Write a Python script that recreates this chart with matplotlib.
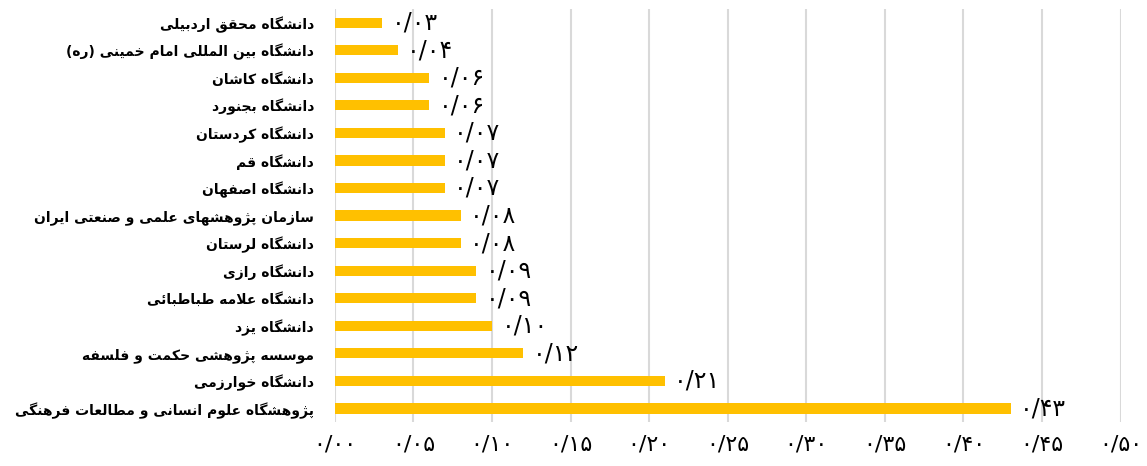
import matplotlib.pyplot as plt
import numpy as np
from matplotlib.ticker import FuncFormatter, MultipleLocator

# داده‌ها (از بالا به پایین)
labels = [
    'دانشگاه محقق اردبیلی',
    'دانشگاه بین المللی امام خمینی (ره)',
    'دانشگاه کاشان',
    'دانشگاه بجنورد',
    'دانشگاه کردستان',
    'دانشگاه قم',
    'دانشگاه اصفهان',
    'سازمان پژوهشهای علمی و صنعتی ایران',
    'دانشگاه لرستان',
    'دانشگاه رازی',
    'دانشگاه علامه طباطبائی',
    'دانشگاه یزد',
    'موسسه پژوهشی حکمت و فلسفه',
    'دانشگاه خوارزمی',
    'پژوهشگاه علوم انسانی و مطالعات فرهنگی',
]
values = [0.03, 0.04, 0.06, 0.06, 0.07, 0.07, 0.07, 0.08, 0.08, 0.09,
          0.09, 0.10, 0.12, 0.21, 0.43]

# matplotlib حروف عربی را به هم نمی‌چسباند، پس شکل‌دهی دستی:
# (isolated, final, initial, medial)
FORMS = {
    'ا': ('\uFE8D', '\uFE8E', None, None),
    'ب': ('\uFE8F', '\uFE90', '\uFE91', '\uFE92'),
    'پ': ('\uFB56', '\uFB57', '\uFB58', '\uFB59'),
    'ت': ('\uFE95', '\uFE96', '\uFE97', '\uFE98'),
    'ج': ('\uFE9D', '\uFE9E', '\uFE9F', '\uFEA0'),
    'ح': ('\uFEA1', '\uFEA2', '\uFEA3', '\uFEA4'),
    'خ': ('\uFEA5', '\uFEA6', '\uFEA7', '\uFEA8'),
    'د': ('\uFEA9', '\uFEAA', None, None),
    'ر': ('\uFEAD', '\uFEAE', None, None),
    'ز': ('\uFEAF', '\uFEB0', None, None),
    'ژ': ('\uFB8A', '\uFB8B', None, None),
    'س': ('\uFEB1', '\uFEB2', '\uFEB3', '\uFEB4'),
    'ش': ('\uFEB5', '\uFEB6', '\uFEB7', '\uFEB8'),
    'ص': ('\uFEB9', '\uFEBA', '\uFEBB', '\uFEBC'),
    'ط': ('\uFEC1', '\uFEC2', '\uFEC3', '\uFEC4'),
    'ع': ('\uFEC9', '\uFECA', '\uFECB', '\uFECC'),
    'ف': ('\uFED1', '\uFED2', '\uFED3', '\uFED4'),
    'ق': ('\uFED5', '\uFED6', '\uFED7', '\uFED8'),
    'ک': ('\uFB8E', '\uFB8F', '\uFB90', '\uFB91'),
    'گ': ('\uFB92', '\uFB93', '\uFB94', '\uFB95'),
    'ل': ('\uFEDD', '\uFEDE', '\uFEDF', '\uFEE0'),
    'م': ('\uFEE1', '\uFEE2', '\uFEE3', '\uFEE4'),
    'ن': ('\uFEE5', '\uFEE6', '\uFEE7', '\uFEE8'),
    'ه': ('\uFEE9', '\uFEEA', '\uFEEB', '\uFEEC'),
    'و': ('\uFEED', '\uFEEE', None, None),
    'ی': ('\uFBFC', '\uFBFD', '\uFBFE', '\uFBFF'),
    'ئ': ('\uFE89', '\uFE8A', '\uFE8B', '\uFE8C'),
}


def shape(text):
    out = []
    n = len(text)
    i = 0
    while i < n:
        c = text[i]
        if c not in FORMS:
            out.append(c)
            i += 1
            continue
        prev = text[i - 1] if i > 0 else None
        joins_prev = prev in FORMS and FORMS[prev][2] is not None
        if c == 'ل' and i + 1 < n and text[i + 1] == 'ا':
            out.append('\uFEFC' if joins_prev else '\uFEFB')
            i += 2
            continue
        nxt = text[i + 1] if i + 1 < n else None
        joins_next = FORMS[c][2] is not None and nxt in FORMS
        iso, fin, ini, med = FORMS[c]
        if joins_prev and joins_next:
            out.append(med)
        elif joins_prev:
            out.append(fin)
        elif joins_next:
            out.append(ini)
        else:
            out.append(iso)
        i += 1
    s = ''.join(out)[::-1]
    return s.translate(str.maketrans('()', ')('))


FA_DIGITS = str.maketrans('0123456789.', '۰۱۲۳۴۵۶۷۸۹/')


def fa_num(v):
    return ('%.2f' % v).translate(FA_DIGITS)


plt.rcParams['font.family'] = ['DejaVu Sans']

fig = plt.figure(figsize=(11.47, 4.66), dpi=100)
ax = fig.add_axes([0.292, 0.094, 0.685, 0.887])

y = np.arange(len(labels))
ax.barh(y, values, height=0.37, color='#FFC000', zorder=3)

for yi, v in zip(y, values):
    ax.text(v + 0.006, yi, fa_num(v), ha='left', va='center', fontsize=17,
            color='#000000', zorder=4)

ax.set_yticks(y)
ax.set_yticklabels([shape(s) for s in labels], fontsize=10, fontweight='bold')
ax.set_ylim(14.5, -0.5)

ax.set_xlim(0, 0.5)
ax.xaxis.set_major_locator(MultipleLocator(0.05))
ax.xaxis.set_major_formatter(FuncFormatter(lambda v, p: fa_num(v)))
ax.tick_params(axis='x', length=0, pad=9, labelsize=16)
ax.tick_params(axis='y', length=0, pad=15)

ax.grid(axis='x', color='#d9d9d9', linewidth=1.5, zorder=0)
for sp in ax.spines.values():
    sp.set_visible(False)

fig.savefig('out.png', dpi=100)
